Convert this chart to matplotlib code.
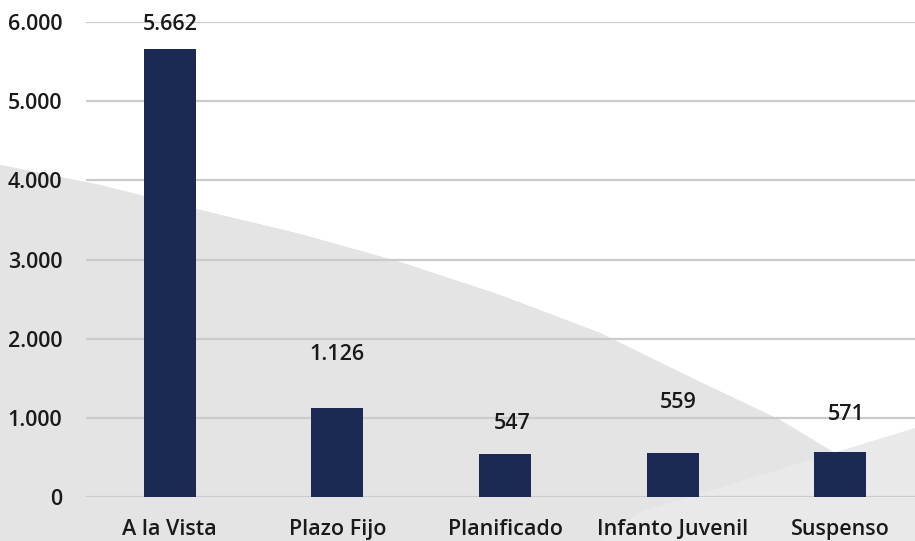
import numpy as np
import matplotlib
matplotlib.use("Agg")
import matplotlib.pyplot as plt
from matplotlib.patches import Polygon
from matplotlib.ticker import FuncFormatter

# Chart data
categories = ["A la Vista", "Plazo Fijo", "Planificado", "Infanto Juvenil", "Suspenso"]
values = [5662, 1126, 547, 559, 571]
y_ticks = [0, 1000, 2000, 3000, 4000, 5000, 6000]

# label placement (points above the bar top), hand-placed as in the original
label_dy = [17.5, 38.5, 22, 36, 27]
label_dx = [0, 0, 5, 4, 4]

BAR_COLOR = "#1b2a55"
GRID_COLOR = "#cbcbcb"
TEXT_COLOR = "#1a1a1a"
FONT = "Open Sans"


def fmt_es(v):
    # Spanish style thousands separator
    return f"{int(v):,}".replace(",", ".")


fig = plt.figure(figsize=(9.15, 5.41), dpi=100)
fig.patch.set_facecolor("white")

# --- decorative grey background (in figure pixel coords) ---
bg = fig.add_axes([0, 0, 1, 1], zorder=0)
bg.set_xlim(0, 915)
bg.set_ylim(541, 0)
bg.axis("off")

curve = [(0, 165), (100, 185), (200, 210), (300, 234), (400, 262), (500, 295),
         (600, 333), (700, 382), (780, 420), (833, 452), (880, 490), (915, 520)]
main_shape = Polygon(curve + [(915, 541), (0, 541)], closed=True,
                     facecolor="#e4e4e4", edgecolor="none")
bg.add_patch(main_shape)

# soft shading inside the grey shape
yy, xx = np.mgrid[0:541, 0:915]
shade = 0.89 + 0.025 * np.sin(xx / 55.0) * np.cos(yy / 40.0) - 0.02 * (yy / 541.0)
img = bg.imshow(shade, cmap="gray", vmin=0, vmax=1, extent=(0, 915, 541, 0),
                interpolation="bilinear", aspect="auto")
img.set_clip_path(main_shape)

wedge = Polygon([(640, 512), (915, 428), (915, 541), (600, 541)], closed=True,
                facecolor="#e9e9e9", edgecolor="none")
bg.add_patch(wedge)

# --- main bar chart ---
ax = fig.add_axes([86 / 915, 44 / 541, 838 / 915, 475 / 541], zorder=1)
ax.patch.set_alpha(0)

x = np.arange(len(categories))
bars = ax.bar(x, values, width=0.31, color=BAR_COLOR, zorder=3)

ax.set_xlim(-0.5, len(categories) - 0.5)
ax.set_ylim(0, 6000)
ax.set_yticks(y_ticks)
ax.yaxis.set_major_formatter(FuncFormatter(lambda v, p: fmt_es(v)))
ax.set_xticks(x)
ax.set_xticklabels(categories)

ax.grid(axis="y", color=GRID_COLOR, linewidth=1.6, zorder=1)
ax.set_axisbelow(True)
for s in ax.spines.values():
    s.set_visible(False)
ax.tick_params(axis="both", length=0, colors=TEXT_COLOR)
ax.tick_params(axis="y", pad=17)
ax.tick_params(axis="x", pad=16)
for lab in ax.get_xticklabels() + ax.get_yticklabels():
    lab.set_fontfamily(FONT)
    lab.set_fontsize(15.5)
    lab.set_fontweight("semibold")

for i, (b, v) in enumerate(zip(bars, values)):
    ax.annotate(fmt_es(v), (b.get_x() + b.get_width() / 2, v),
                xytext=(label_dx[i], label_dy[i]), textcoords="offset points",
                ha="center", va="center", fontsize=15.5, fontweight="semibold",
                fontfamily=FONT, color=TEXT_COLOR, zorder=4)

fig.savefig("out.png", dpi=100)
